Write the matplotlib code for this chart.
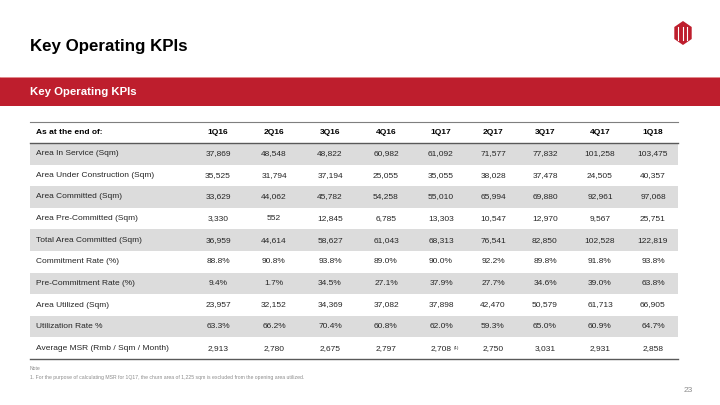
import matplotlib.pyplot as plt
from matplotlib.patches import Rectangle, Polygon

plt.rcParams['font.family'] = ['Liberation Sans', 'DejaVu Sans']

# table data
quarters = ["1Q16", "2Q16", "3Q16", "4Q16", "1Q17", "2Q17", "3Q17", "4Q17", "1Q18"]
row_labels = [
    "Area In Service (Sqm)",
    "Area Under Construction (Sqm)",
    "Area Committed (Sqm)",
    "Area Pre-Committed (Sqm)",
    "Total Area Committed (Sqm)",
    "Commitment Rate (%)",
    "Pre-Commitment Rate (%)",
    "Area Utilized (Sqm)",
    "Utilization Rate %",
    "Average MSR (Rmb / Sqm / Month)",
]
area_in_service = [37869, 48548, 48822, 60982, 61092, 71577, 77832, 101258, 103475]
area_under_construction = [35525, 31794, 37194, 25055, 35055, 38028, 37478, 24505, 40357]
area_committed = [33629, 44062, 45782, 54258, 55010, 65994, 69880, 92961, 97068]
area_pre_committed = [3330, 552, 12845, 6785, 13303, 10547, 12970, 9567, 25751]
total_area_committed = [36959, 44614, 58627, 61043, 68313, 76541, 82850, 102528, 122819]
commitment_rate = [88.8, 90.8, 93.8, 89.0, 90.0, 92.2, 89.8, 91.8, 93.8]
pre_commitment_rate = [9.4, 1.7, 34.5, 27.1, 37.9, 27.7, 34.6, 39.0, 63.8]
area_utilized = [23957, 32152, 34369, 37082, 37898, 42470, 50579, 61713, 66905]
utilization_rate = [63.3, 66.2, 70.4, 60.8, 62.0, 59.3, 65.0, 60.9, 64.7]
average_msr = [2913, 2780, 2675, 2797, 2708, 2750, 3031, 2931, 2858]

rows = [area_in_service, area_under_construction, area_committed, area_pre_committed,
        total_area_committed, commitment_rate, pre_commitment_rate, area_utilized,
        utilization_rate, average_msr]
is_pct = [False, False, False, False, False, True, True, False, True, False]

RED = "#BE1E2D"
TXT = "#262626"

fig = plt.figure(figsize=(7.2, 4.05), dpi=100)
ax = fig.add_axes([0, 0, 1, 1])
ax.set_xlim(0, 720)
ax.set_ylim(405, 0)
ax.axis("off")

# title + red band
ax.text(30, 47, "Key Operating KPIs", fontsize=12.2, fontweight="bold", color="black", va="center")
ax.add_patch(Rectangle((0, 77), 720, 29, color=RED, lw=0))
ax.plot([0, 720], [77, 77], color="#E8A0A0", lw=0.6)
ax.text(30, 92, "Key Operating KPIs", fontsize=8.2, fontweight="bold", color="white", va="center")

# logo (simple hexagon mark)
hx = [683 + 10 * dx for dx in (0, 0.87, 0.87, 0, -0.87, -0.87)]
hy = [33 + 12 * dy for dy in (-1, -0.5, 0.5, 1, 0.5, -0.5)]
ax.add_patch(Polygon(list(zip(hx, hy)), closed=True, color=RED, lw=0))
for lx in (678, 682.5, 687):
    ax.plot([lx, lx], [27, 40], color="white", lw=0.8)

# table geometry
left, right = 30, 678
col_x = [218, 274, 330, 386, 441, 493, 545, 600, 653]
top, head_bot, row_h = 122, 143, 21.6

ax.plot([left, right], [top, top], color="#7F7F7F", lw=0.8)
ax.text(36, (top + head_bot) / 2, "As at the end of:", fontsize=6, fontweight="bold",
        color="black", va="center")
for x, q in zip(col_x, quarters):
    ax.text(x, (top + head_bot) / 2, q, fontsize=6, fontweight="bold", color="black",
            va="center", ha="center")

for i, (lab, vals, pct) in enumerate(zip(row_labels, rows, is_pct)):
    y0 = head_bot + i * row_h
    yc = y0 + row_h / 2
    if i % 2 == 0:
        ax.add_patch(Rectangle((left, y0), right - left, row_h, color="#DCDCDC", lw=0))
    ax.text(36, yc, lab, fontsize=6, color=TXT, va="center")
    for x, v, q in zip(col_x, vals, quarters):
        s = f"{v:.1f}%" if pct else f"{v:,}"
        ax.text(x, yc, s, fontsize=6, color=TXT, va="center", ha="center")
        if i == len(rows) - 1 and q == "1Q17":
            ax.text(x + 13, yc - 0.5, "(1)", fontsize=3.2, color=TXT, va="center")

ax.plot([left, right], [head_bot, head_bot], color="#595959", lw=1.0)
bot = head_bot + len(rows) * row_h
ax.plot([left, right], [bot, bot], color="#595959", lw=1.0)

# footnote + page number
ax.text(30, 369, "Note", fontsize=3.7, color="#8C8C8C", va="center")
ax.text(30, 377, "1. For the purpose of calculating MSR for 1Q17, the churn area of 1,225 sqm "
        "is excluded from the opening area utilized.", fontsize=3.7, color="#8C8C8C", va="center")
ax.text(688, 390, "23", fontsize=6, color="#8C8C8C", va="center", ha="center")

fig.savefig("out.png", dpi=100)
